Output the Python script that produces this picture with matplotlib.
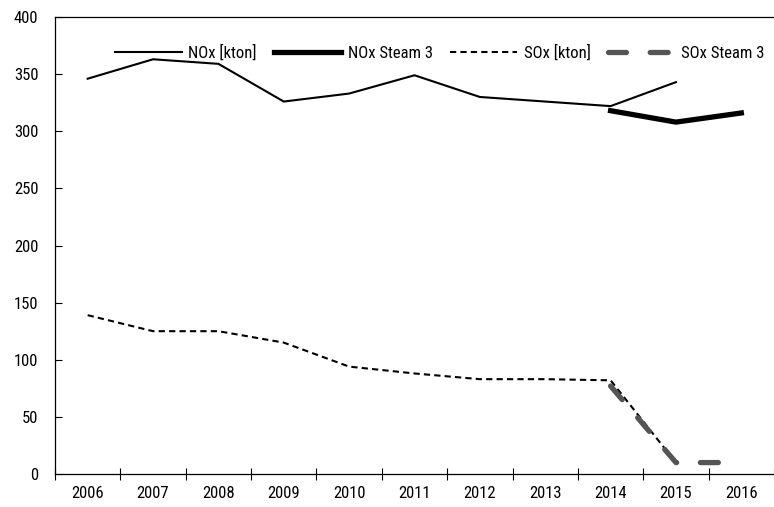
import matplotlib
matplotlib.use("Agg")
from matplotlib import pyplot as plt
import numpy as np

plt.rcParams['font.family'] = ['Roboto Condensed', 'DejaVu Sans']

years = ['2006', '2007', '2008', '2009', '2010', '2011', '2012', '2013', '2014', '2015', '2016']
nox = [346, 363, 359, 326, 333, 349, 330, 326, 322, 343, np.nan]
nox_steam3 = [np.nan] * 8 + [318, 308, 316]
sox = [139, 125, 125, 115, 94, 88, 83, 83, 82, 10, np.nan]
sox_steam3 = [np.nan] * 8 + [77, 10, 10]

x = np.arange(len(years))

fig = plt.figure(figsize=(7.74, 5.07), dpi=100)
ax = fig.add_axes([55 / 774, 33 / 507, 719 / 774, 457 / 507])

ax.plot(x, nox, color='black', lw=1.5, label='NOx [kton]')
ax.plot(x, nox_steam3, color='black', lw=3.8, label='NOx Steam 3')
ax.plot(x, sox, color='black', lw=1.5, ls=(0, (3, 2)), label='SOx [kton]')
ax.plot(x, sox_steam3, color='#555555', lw=3.8, ls=(0, (3.4, 4.5)),
        dash_capstyle='round', label='SOx Steam 3')

ax.set_xlim(-0.5, 10.45)
ax.set_ylim(0, 400)
ax.set_yticks(range(0, 401, 50))
ax.set_xticks(x)
ax.set_xticklabels(years)
ax.set_xticks(np.arange(-0.5, 10.6, 1), minor=True)
ax.tick_params(axis='x', which='major', length=0, pad=9, labelsize=12)
ax.tick_params(axis='x', which='minor', direction='inout', length=9, width=0.8)
ax.tick_params(axis='y', direction='in', length=5, width=0.8, pad=12, labelsize=12)
ax.spines['right'].set_visible(False)
for s in ['left', 'bottom', 'top']:
    ax.spines[s].set_linewidth(0.9)

ax.legend(loc='upper left', bbox_to_anchor=(45 / 719, 0.972), ncol=4, frameon=False,
          fontsize=12, handlelength=4.0, columnspacing=1.05, handletextpad=0.4)

fig.savefig('out.png', dpi=100)
